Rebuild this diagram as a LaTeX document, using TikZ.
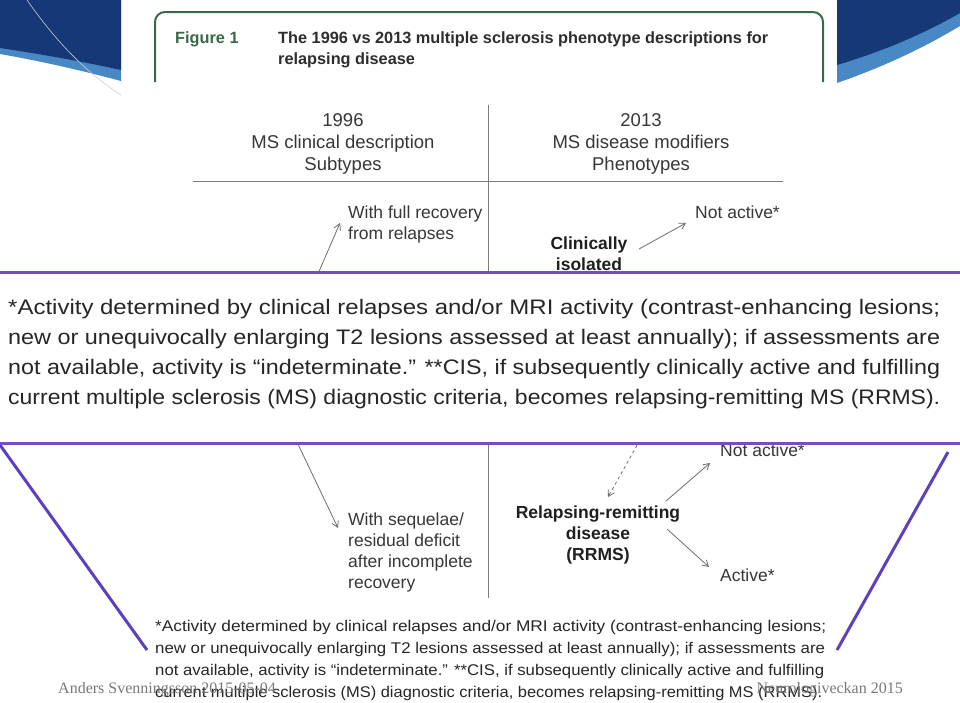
\documentclass[tikz,border=0pt]{standalone}
\usepackage{fontspec}
\usepackage{graphicx}
\setmainfont{Liberation Sans}
\newfontfamily\footserif{Liberation Serif}
\usetikzlibrary{arrows.meta}
\definecolor{darkblue}{RGB}{22,56,118}
\definecolor{lightblue}{RGB}{72,136,196}
\definecolor{figgreen}{RGB}{58,104,72}
\definecolor{titletext}{RGB}{45,45,45}
\definecolor{txtgray}{RGB}{55,55,55}
\definecolor{arrgray}{RGB}{110,110,110}
\definecolor{rulegray}{RGB}{125,125,125}
\definecolor{boxpurple}{RGB}{122,76,190}
\definecolor{diagpurple}{RGB}{92,64,190}
\definecolor{footgray}{RGB}{120,120,120}
\newcommand{\fitw}[2]{\resizebox{#1}{\height}{#2}}
\begin{document}
\begin{tikzpicture}[x=1pt,y=-1pt,
  lbl/.style={inner sep=0pt, anchor=base west, font=\fontsize{17.5}{21}\selectfont, text=txtgray},
  lblb/.style={inner sep=0pt, anchor=base, font=\fontsize{17.5}{21}\selectfont\bfseries, text=black!88},
  hdr/.style={inner sep=0pt, anchor=base, font=\fontsize{18.5}{22}\selectfont, text=txtgray},
  ttl/.style={inner sep=0pt, anchor=base west, font=\fontsize{16.3}{22}\selectfont\bfseries, text=titletext},
  fnbig/.style={inner sep=0pt, anchor=base west, font=\fontsize{21}{30}\selectfont, text=black!85},
  fnsmall/.style={inner sep=0pt, anchor=base west, font=\fontsize{15.5}{22}\selectfont, text=black!85},
  foot/.style={inner sep=0pt, font=\footserif\fontsize{16}{20}\selectfont, text=footgray},
  arr/.style={draw=arrgray, line width=0.8pt, -{Straight Barb[length=6pt,width=7pt]}},
  rule/.style={draw=rulegray, line width=1pt}
]
\useasboundingbox (0,0) rectangle (960,702);
\fill[white] (0,0) rectangle (960,702);

% corner decorations
\fill[lightblue] (0,0) -- (121,0) -- (121,81) .. controls (80,70) and (40,61) .. (0,54) -- cycle;
\fill[darkblue] (0,0) -- (121,0) -- (121,70) .. controls (80,61) and (40,54) .. (0,48) -- cycle;
\draw[draw={rgb,255:red,200;green,206;blue,216}, line width=0.6pt] (27,0) .. controls (55,40) and (85,72) .. (121,95);
\fill[lightblue] (837,0) -- (960,0) -- (960,26) .. controls (920,50) and (880,68) .. (837,83) -- cycle;
\fill[darkblue] (837,0) -- (960,0) -- (960,13) .. controls (920,36) and (880,52) .. (837,65) -- cycle;

% figure header
\draw[figgreen, line width=2pt, rounded corners=10pt] (155,82) -- (155,12) -- (823,12) -- (823,82);
\node[ttl, text=figgreen] (fig) at (175,43) {Figure 1};
\node[ttl] (t1) at (278,43) {The 1996 vs 2013 multiple sclerosis phenotype descriptions for};
\node[ttl] (t2) at (278,64.5) {relapsing disease};

% table headers
\node[hdr] (h1a) at (343,126.5) {1996};
\node[hdr] (h1b) at (343,148.5) {MS clinical description};
\node[hdr] (h1c) at (343,170.5) {Subtypes};
\node[hdr] (h2a) at (641,126.5) {2013};
\node[hdr] (h2b) at (641,148.5) {MS disease modifiers};
\node[hdr] (h2c) at (641,170.5) {Phenotypes};
\coordinate (hl) at (193,181);
\coordinate (hr) at (783,181);
\coordinate (vt) at (488,105);
\coordinate (vb) at (488,598);
\draw[rule] (hl) -- (hr);
\draw[rule] (vt) -- (vb);

% upper diagram
\node[lbl] (full1) at (348,218.5) {With full recovery};
\node[lbl] (full2) at (348,239.5) {from relapses};
\node[lbl] (na1) at (695,218.5) {Not active*};
\node[lblb] (cis1) at (589,249.5) {Clinically};
\node[lblb] (cis2) at (589,270.5) {isolated};
\coordinate (a1s) at (317,276);
\coordinate (a1e) at (340,223);
\coordinate (a2s) at (639,249);
\coordinate (a2e) at (686,223);
\draw[arr] (a1s) -- (a1e);
\draw[arr] (a2s) -- (a2e);

% lower diagram
\node[lbl] (seq1) at (348,525) {With sequelae/};
\node[lbl] (seq2) at (348,546) {residual deficit};
\node[lbl] (seq3) at (348,567) {after incomplete};
\node[lbl] (seq4) at (348,588) {recovery};
\node[lblb] (rr1) at (598,518.5) {Relapsing-remitting};
\node[lblb] (rr2) at (598,539.5) {disease};
\node[lblb] (rr3) at (598,560.5) {(RRMS)};
\node[lbl] (na2) at (720,456) {Not active*};
\node[lbl] (act) at (720,581.5) {Active*};
\coordinate (a3s) at (296,440);
\coordinate (a3e) at (338,528);
\coordinate (a4s) at (640,440);
\coordinate (a4e) at (608,497);
\coordinate (a5s) at (666,501);
\coordinate (a5e) at (710,463);
\coordinate (a6s) at (667,529);
\coordinate (a6e) at (709,567);
\draw[arr] (a3s) -- (a3e);
\draw[arr, dashed] (a4s) -- (a4e);
\draw[arr] (a5s) -- (a5e);
\draw[arr] (a6s) -- (a6e);

% overlay box
\fill[white] (0,272) rectangle (960,443);
\draw[boxpurple, line width=3pt] (0,272) -- (960,272);
\draw[boxpurple, line width=3pt] (0,443) -- (960,443);
\node[fnbig] (o1) at (8,314) {\fitw{932pt}{*Activity determined by clinical relapses and/or MRI activity (contrast-enhancing lesions;}};
\node[fnbig] (o2) at (8,344) {\fitw{932pt}{new or unequivocally enlarging T2 lesions assessed at least annually); if assessments are}};
\node[fnbig] (o3) at (8,374) {\fitw{932pt}{not available, activity is “indeterminate.” **CIS, if subsequently clinically active and fulfilling}};
\node[fnbig] (o4) at (8,404) {\fitw{932pt}{current multiple sclerosis (MS) diagnostic criteria, becomes relapsing-remitting MS (RRMS).}};

% zoom lines
\coordinate (dl1) at (0,445);
\coordinate (dl2) at (147,650);
\coordinate (dr1) at (948,452);
\coordinate (dr2) at (837,650);
\draw[diagpurple, line width=3pt] (dl1) -- (dl2);
\draw[diagpurple, line width=3pt] (dr1) -- (dr2);

% lower footnote
\node[fnsmall] (f1) at (155,631) {\fitw{671pt}{*Activity determined by clinical relapses and/or MRI activity (contrast-enhancing lesions;}};
\node[fnsmall] (f2) at (155,653) {\fitw{670pt}{new or unequivocally enlarging T2 lesions assessed at least annually); if assessments are}};
\node[fnsmall] (f3) at (155,675) {\fitw{669pt}{not available, activity is “indeterminate.” **CIS, if subsequently clinically active and fulfilling}};
\node[fnsmall] (f4) at (155,697) {\fitw{667pt}{current multiple sclerosis (MS) diagnostic criteria, becomes relapsing-remitting MS (RRMS).}};

% footer
\node[foot, anchor=base west] (fl) at (58,693.5) {Anders Svenningsson 2015-05-04};
\node[foot, anchor=base east] (fr) at (903,693.5) {Neurologiveckan 2015};
\end{tikzpicture}
\end{document}
